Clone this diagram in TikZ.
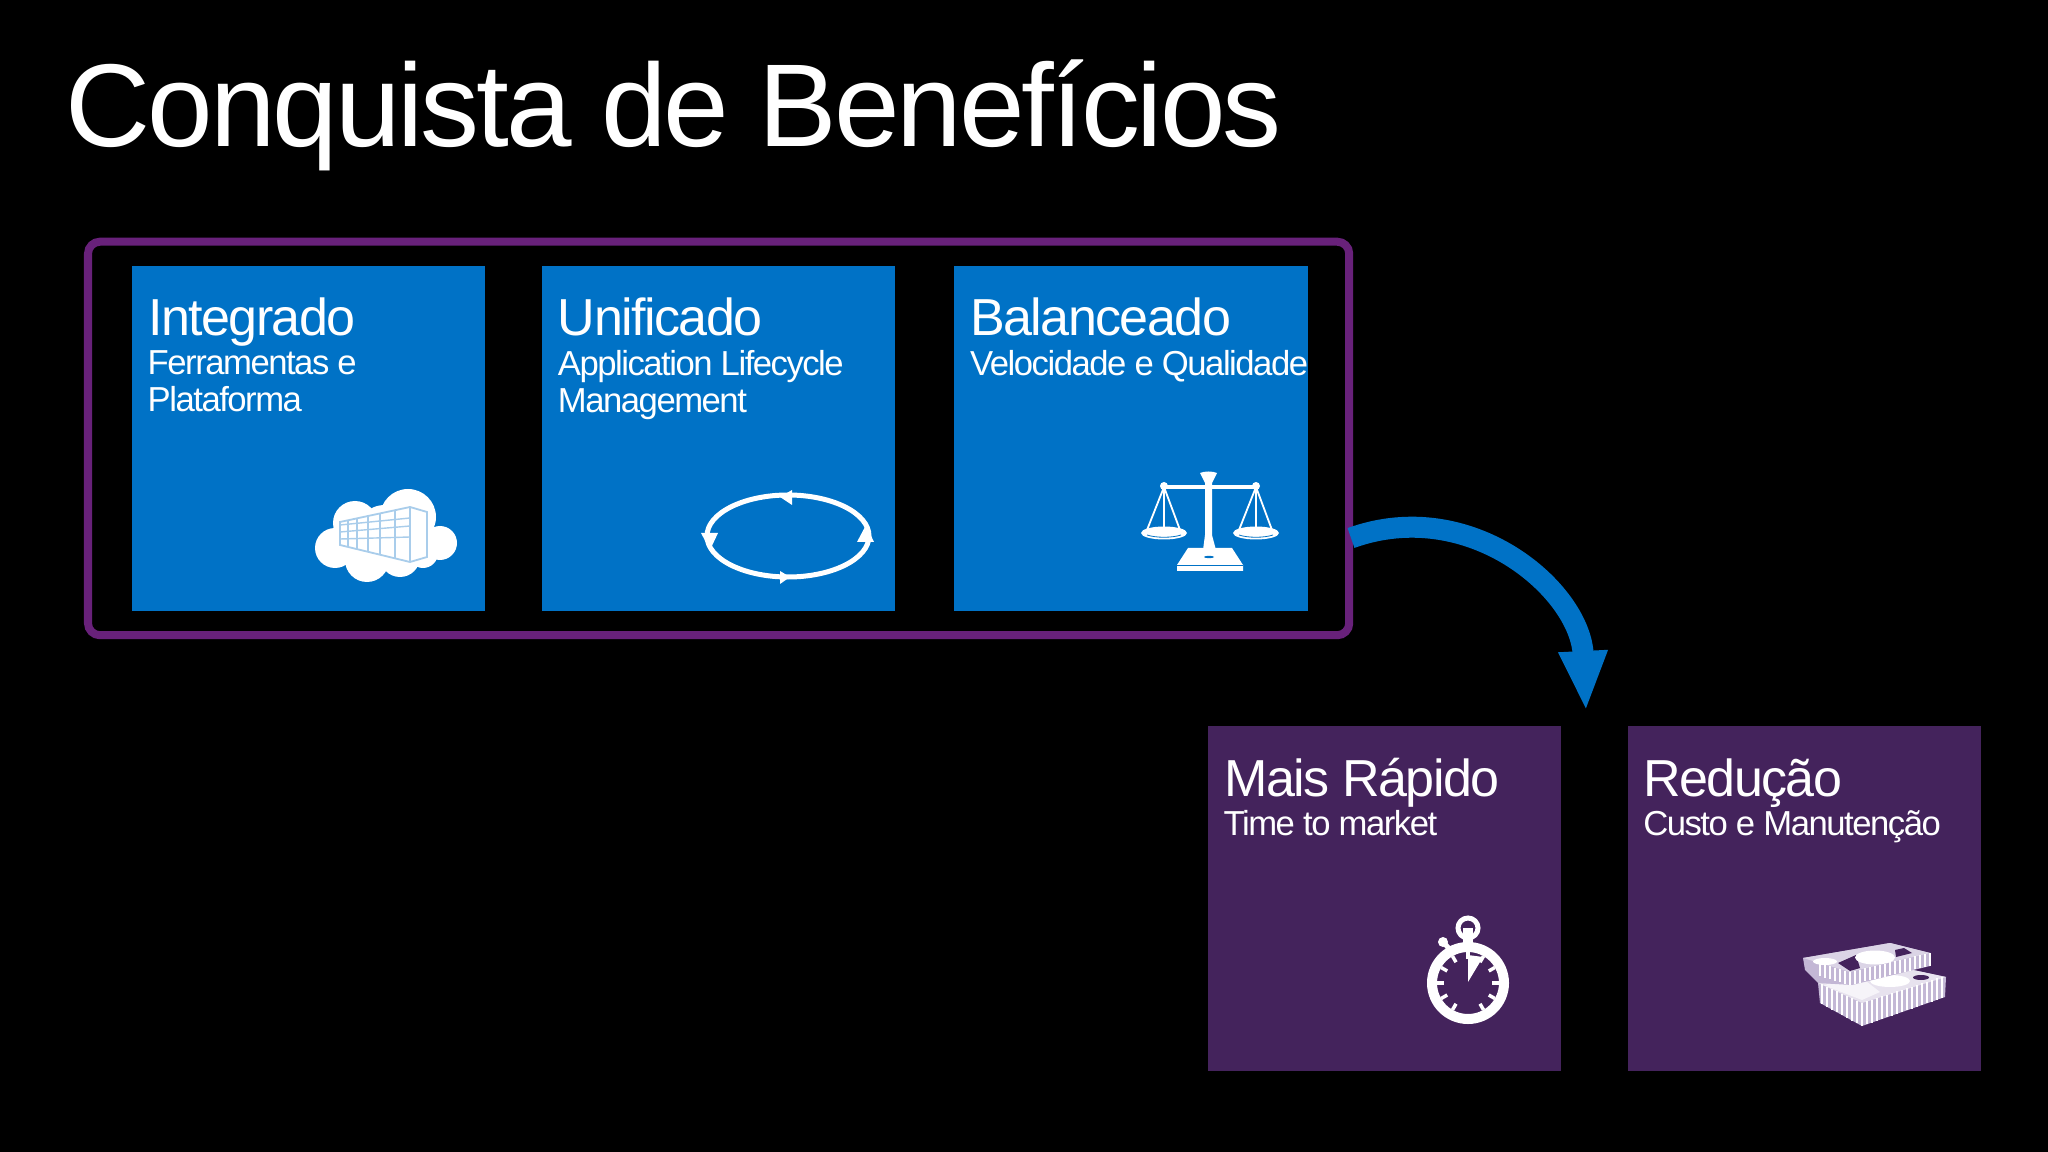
\documentclass[tikz,border=0pt]{standalone}
\usepackage{fontspec}
\setmainfont{Liberation Sans}
\newfontfamily\titlefont[LetterSpace=-2.6]{Liberation Sans}
\newfontfamily\headfont[LetterSpace=-3]{Liberation Sans}
\newfontfamily\subfont[LetterSpace=-4.3]{Liberation Sans}
\usetikzlibrary{positioning,arrows.meta}
\definecolor{tileblue}{HTML}{0072C6}
\definecolor{tilepurple}{HTML}{44235C}
\definecolor{framepurple}{HTML}{68217A}
\definecolor{iconline}{HTML}{A9CDEB}
\definecolor{moneyside}{HTML}{C3B7D5}
\tikzset{
  tile/.style={draw=none, outer sep=0pt, minimum width=3.53cm, minimum height=3.445cm, inner sep=0pt, anchor=north west},
  blue/.style={fill=tileblue},
  purple/.style={fill=tilepurple},
  grupo/.style={draw=framepurple, line width=0.08cm, outer sep=0pt, rounded corners=0.12cm, minimum width=12.605cm, minimum height=3.933cm, inner sep=0pt, anchor=north west},
  pagetitle/.style={text=white, inner sep=0pt, anchor=base west, font=\titlefont\fontsize{33.5}{36}\selectfont},
  heading/.style={text=white, inner sep=0pt, anchor=base west, font=\headfont\fontsize{14.8}{17}\selectfont},
  subtext/.style={text=white, inner sep=0pt, anchor=north west, align=left, font=\subfont\fontsize{9.86}{10.53}\selectfont},
  flow/.style={draw=tileblue, line width=0.21cm, -{Triangle[length=0.6cm, width=0.45cm]}},
  icon/.style={fill=white, draw=none},
  iconstroke/.style={draw=white, line cap=round},
}
\begin{document}
\begin{tikzpicture}[x=0.01cm, y=-0.01cm]
  \fill[black] (0,0) rectangle (2048,1152);
  \useasboundingbox (0,0) rectangle (2048,1152);

  \node[pagetitle] (titulo) at (65,147) {Conquista de Benefícios};

  \node[grupo] (grupo) at (88,241.7) {};
  \node[tile, blue] (integrado) at (132,266) {};
  \node[tile, blue] (unificado) [right=0.57cm of integrado] {};
  \node[tile, blue] (balanceado) [right=0.59cm of unificado] {};
  \node[tile, purple] (rapido) at (1208,726) {};
  \node[tile, purple] (reducao) [right=0.663cm of rapido] {};

  \node[heading] (h1) at ([shift={(15.5,70)}]integrado.north west) {Integrado};
  \node[subtext] (s1) at ([shift={(15,84)}]integrado.north west) {Ferramentas e\\Plataforma};
  \node[heading] (h2) at ([shift={(15,70)}]unificado.north west) {Unificado};
  \node[subtext] (s2) at ([shift={(15,84)}]unificado.north west) {Application Lifecycle\\Management};
  \node[heading] (h3) at ([shift={(15,70)}]balanceado.north west) {Balanceado};
  \node[subtext] (s3) at ([shift={(15,84)}]balanceado.north west) {Velocidade e Qualidade};
  \node[heading] (h4) at ([shift={(15.5,70)}]rapido.north west) {Mais Rápido};
  \node[subtext] (s4) at ([shift={(15,84)}]rapido.north west) {Time to market};
  \node[heading] (h5) at ([shift={(15,70)}]reducao.north west) {Redução};
  \node[subtext] (s5) at ([shift={(15,84)}]reducao.north west) {Custo e Manutenção};

  \coordinate (saida) at (1351,538);
  \coordinate (entrada) at (1586,711);
  \draw[flow] (saida) .. controls (1470,495) and (1580,590) .. (entrada);

  % cloud
  \foreach \x/\y/\r in {408/517/28, 355/523/22, 335/548/20, 440/543/17, 367/560/22, 400/557/20, 423/553/15, 385/535/30}
    \fill[icon] (\x,\y) circle (\r);
  \draw[iconline, line width=0.018cm, fill=white] (340,522) -- (410,507) -- (427,512) -- (427,557) -- (410,562) -- (340,545) -- cycle;
  \draw[iconline, line width=0.018cm] (410,507) -- (410,562);
  \foreach \x/\a/\b in {348/520/547, 357/518/549, 368/516/552, 380/513/555, 395/510/558}
    \draw[iconline, line width=0.014cm] (\x,\a) -- (\x,\b);
  \foreach \a/\b in {525/518, 532/526, 539/537}
    \draw[iconline, line width=0.014cm] (340,\a) -- (410,\b);

  % cycle
  \draw[iconstroke, line width=0.05cm] (788,536) ellipse (81 and 41);
  \fill[icon] (780,497) -- (792,490) -- (792,505) -- cycle;
  \fill[icon] (790,577) -- (780,571) -- (780,584) -- cycle;
  \fill[icon] (701,533) -- (718,533) -- (710,550) -- cycle;
  \fill[icon] (857,542) -- (874,542) -- (866,525) -- cycle;

  % scales
  \fill[icon] (1200,473) .. controls (1204,471) and (1213,471) .. (1217,473) -- (1212,483) -- (1212,535) -- (1216,550) -- (1203,550) -- (1205,535) -- (1205,483) -- cycle;
  \draw[iconstroke, line width=0.045cm] (1164,487) -- (1255,487);
  \foreach \x in {1164,1256} {
    \fill[icon] (\x,486) circle (4);
    \draw[iconstroke, line width=0.018cm] (\x,487) -- (\x-17,530) (\x,487) -- (\x,530) (\x,487) -- (\x+16,530);
    \fill[icon] (\x,533) ellipse (23 and 6.5);
    \draw[tileblue, line width=0.008cm] (\x-17,535) .. controls (\x-8,538) and (\x+8,538) .. (\x+17,535);
  }
  \fill[icon] (1188,548) -- (1232,548) -- (1243,565) -- (1243,571) -- (1177,571) -- (1177,565) -- cycle;
  \draw[tileblue, line width=0.008cm] (1177,565) -- (1243,565);
  \fill[tileblue] (1209,557) ellipse (5 and 1.2);

  % stopwatch
  \draw[iconstroke, line width=0.1cm] (1468,983) circle (36);
  \draw[iconstroke, line width=0.05cm] (1468,928) circle (10);
  \fill[icon] (1463,928) rectangle (1473,946);
  \fill[icon] (1443,942) circle (5);
  \draw[iconstroke, line width=0.05cm] (1445,944) -- (1451,951);
  \fill[icon] (1468,955) -- (1483,957) -- (1468,982) -- cycle;
  \foreach \a in {30,60,...,330}
    \draw[draw=white, line width=0.035cm] ([shift={(\a+90:31)}]1468,983) -- ([shift={(\a+90:24)}]1468,983);

  % money
  \fill[moneyside] (1818,983) -- (1913,970) -- (1946,977) -- (1945,997) -- (1862,1026) -- (1820,1003) -- cycle;
  \fill[white!60!moneyside] (1818,983) -- (1913,970) -- (1946,977) -- (1862,1003) -- cycle;
  \fill[white!85!moneyside] (1823,985) -- (1862,978) -- (1880,992) -- (1862,1000) -- cycle;
  \foreach \t in {0,5,...,80}
    \draw[white, line width=0.012cm] (1862+\t,1026-\t*0.35) -- (1862+\t,1003-\t*0.33);
  \foreach \t in {0,5,...,40}
    \draw[white, line width=0.012cm] (1862-\t,1026-\t*0.55) -- (1862-\t,1003-\t*0.47);
  \fill[white] (1890,981) ellipse (20 and 6);
  \fill[tilepurple] (1921,977.5) ellipse (8 and 2.5);
  \fill[moneyside] (1803,958) -- (1890,943) -- (1930,953) -- (1930,966) -- (1852,985) -- (1818,983) -- (1805,970) -- cycle;
  \fill[white!40!moneyside] (1803,958) -- (1890,943) -- (1930,953) -- (1850,972) -- cycle;
  \foreach \t in {0,5,...,80}
    \draw[white, line width=0.012cm] (1850+\t,972-\t*0.24) -- (1850+\t,985-\t*0.24);
  \foreach \t in {0,5,...,30}
    \draw[white, line width=0.012cm] (1850-\t,972-\t*0.3) -- (1850-\t,985-\t*0.3);
  \fill[tilepurple] (1838,963) -- (1856,955) -- (1860,968) -- (1850,971) -- cycle;
  \fill[tilepurple] (1895,950) -- (1904,948) -- (1912,953) -- (1896,957) -- cycle;
  \fill[white] (1875,957.5) ellipse (20 and 7);
  \fill[white] (1825,961.5) ellipse (12 and 3.5);
\end{tikzpicture}
\end{document}
